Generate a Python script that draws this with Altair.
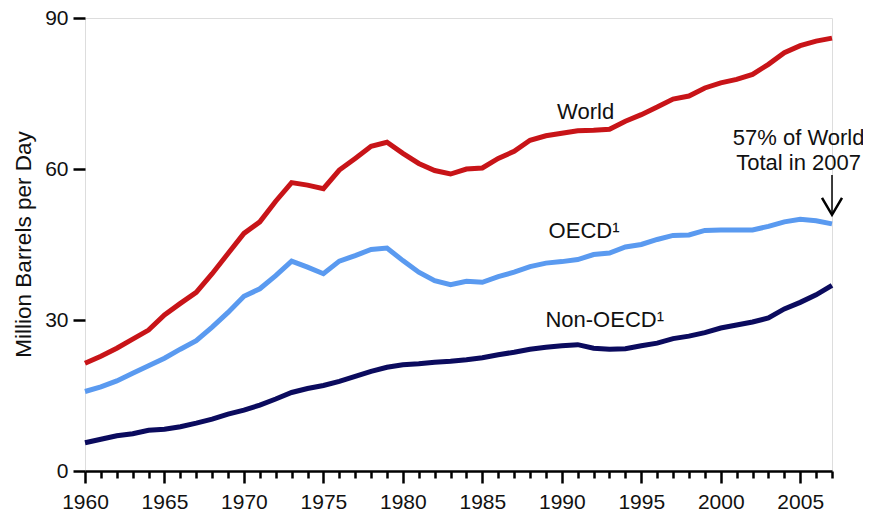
import altair as alt
import pandas as pd

years = list(range(1960, 2008))
world = [21.4, 22.8, 24.4, 26.2, 28.0, 31.0, 33.3, 35.5, 39.2, 43.2,
         47.2, 49.5, 53.6, 57.3, 56.8, 56.1, 59.8, 62.1, 64.5, 65.3,
         63.1, 61.1, 59.7, 59.0, 60.0, 60.2, 62.1, 63.5, 65.7, 66.6,
         67.1, 67.6, 67.7, 67.9, 69.5, 70.8, 72.3, 73.9, 74.5, 76.1,
         77.1, 77.8, 78.8, 80.8, 83.1, 84.5, 85.4, 86.0]
oecd = [15.8, 16.7, 17.9, 19.4, 20.9, 22.4, 24.2, 25.9, 28.6, 31.5,
        34.7, 36.2, 38.8, 41.7, 40.5, 39.2, 41.7, 42.8, 44.0, 44.3,
        41.8, 39.5, 37.8, 37.0, 37.7, 37.5, 38.6, 39.5, 40.6, 41.3,
        41.6, 42.0, 43.0, 43.3, 44.5, 45.0, 46.0, 46.8, 46.9, 47.8,
        47.9, 47.9, 47.9, 48.6, 49.5, 50.0, 49.7, 49.1]
non_oecd = [5.6, 6.3, 7.0, 7.4, 8.1, 8.3, 8.8, 9.5, 10.3, 11.3,
            12.1, 13.1, 14.3, 15.6, 16.4, 17.0, 17.8, 18.8, 19.8, 20.6,
            21.1, 21.3, 21.6, 21.8, 22.1, 22.5, 23.1, 23.6, 24.2, 24.6,
            24.9, 25.1, 24.4, 24.2, 24.3, 24.9, 25.4, 26.3, 26.8, 27.5,
            28.4, 29.0, 29.6, 30.4, 32.2, 33.5, 35.0, 36.9]

series_names = ["World", "OECD", "Non-OECD"]
series_colors = ["#C81418", "#5A9AF0", "#0B0B5E"]

label_texts = ["World", "OECD¹", "Non-OECD¹", "57% of World", "Total in 2007"]
label_years = [1991.5, 1991.4, 1992.7, 2004.9, 2004.9]
label_values = [71.4, 47.6, 30.0, 66.1, 61.2]

arrow_year = [2007]
arrow_top = [58.8]
arrow_tip = [50.9]

rows = []
for name, vals in zip(series_names, [world, oecd, non_oecd]):
    for y, v in zip(years, vals):
        rows.append({"year": y, "value": v, "series": name})
df = pd.DataFrame(rows)

FONT = "Liberation Sans"

x_scale = alt.Scale(domain=[1960, 2007], nice=False, zero=False)
y_scale = alt.Scale(domain=[0, 90], nice=False)

x_axis = alt.Axis(
    values=years, format="d", title=None,
    labelExpr="datum.value % 5 === 0 ? datum.label : ''",
    labelOverlap=False, labelFont=FONT, labelFontSize=21, labelColor="#111",
    labelPadding=8, labelFlush=False,
    tickSize={"condition": {"test": "datum.value % 5 === 0", "value": 12}, "value": 7},
    tickWidth=2.5, tickColor="#000", domainColor="#000", domainWidth=2.5,
    grid=False,
)
y_axis = alt.Axis(
    values=[0, 30, 60, 90], title="Million Barrels per Day",
    titleFont=FONT, titleFontSize=22.5, titleFontWeight="normal", titleColor="#111",
    titleX=-62, titleY=226, titleAngle=-90, titleBaseline="middle", titleAlign="center",
    labelFont=FONT, labelFontSize=21, labelColor="#111", labelPadding=5,
    tickSize=12, tickWidth=2.5, tickColor="#000", domain=False, grid=False,
)


def X(field):
    return alt.X(field, type="quantitative", scale=x_scale, axis=x_axis)


def Y(field):
    return alt.Y(field, type="quantitative", scale=y_scale, axis=y_axis)


lines = alt.Chart(df).mark_line(strokeWidth=5, strokeJoin="miter").encode(
    x=X("year"),
    y=Y("value"),
    color=alt.Color("series:N", scale=alt.Scale(domain=series_names, range=series_colors), legend=None),
    detail="series:N",
)

labels_df = pd.DataFrame({"year": label_years, "value": label_values, "text": label_texts})
labels = alt.Chart(labels_df).mark_text(
    font=FONT, fontSize=22, color="#111", align="center", baseline="middle"
).encode(
    x=X("year"),
    y=Y("value"),
    text="text:N",
)

arrow_df = pd.DataFrame({"year": arrow_year, "top": arrow_top, "tip": arrow_tip})
shaft = alt.Chart(arrow_df).mark_rule(color="#000", strokeWidth=1.5).encode(
    x=X("year"),
    y=Y("top"),
    y2="tip:Q",
)
head = alt.Chart(arrow_df).mark_point(
    shape="M -1 -1.7 L 0 0 L 1 -1.7", filled=False, stroke="#000",
    strokeWidth=2.5, size=400, opacity=1, strokeJoin="miter",
).encode(
    x=X("year"),
    y=Y("tip"),
)

chart = alt.layer(lines, labels, shaft, head).properties(
    width=747, height=453,
    autosize=alt.AutoSizeParams(type="none"),
    padding={"left": 77, "top": 10, "right": 31, "bottom": 40},
).configure_view(strokeWidth=0, stroke="transparent").configure(background="white")

chart.save("out.html", embed_options={"renderer": "svg", "actions": False})
